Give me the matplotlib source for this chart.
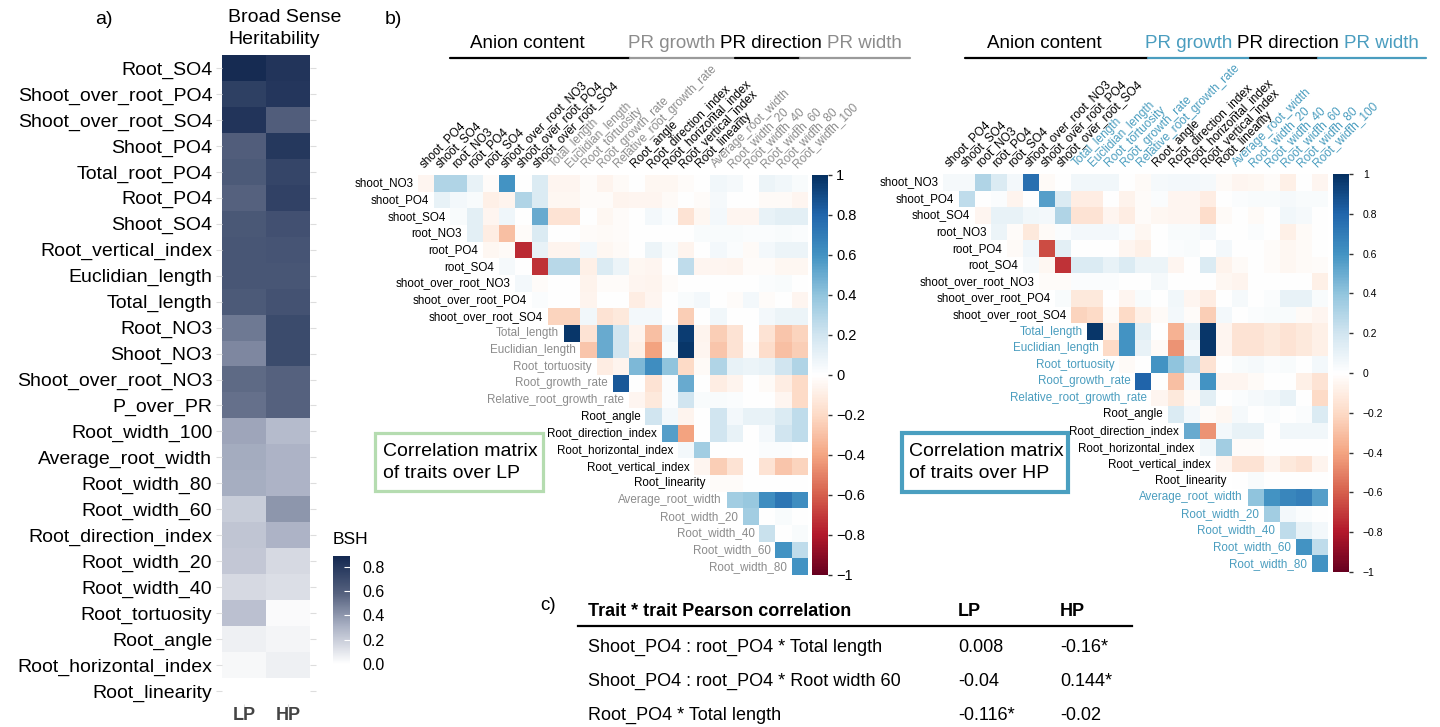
import numpy as np
import matplotlib
matplotlib.use('Agg')
import matplotlib.pyplot as plt
from matplotlib.colors import LinearSegmentedColormap
from matplotlib.lines import Line2D
from matplotlib.patches import Rectangle

plt.rcParams['font.family'] = ['Liberation Sans', 'DejaVu Sans']

# ---- panel a: broad sense heritability ----
bsh_traits = ['Root_SO4', 'Shoot_over_root_PO4', 'Shoot_over_root_SO4', 'Shoot_PO4',
              'Total_root_PO4', 'Root_PO4', 'Shoot_SO4', 'Root_vertical_index',
              'Euclidian_length', 'Total_length', 'Root_NO3', 'Shoot_NO3',
              'Shoot_over_root_NO3', 'P_over_PR', 'Root_width_100', 'Average_root_width',
              'Root_width_80', 'Root_width_60', 'Root_direction_index', 'Root_width_20',
              'Root_width_40', 'Root_tortuosity', 'Root_angle', 'Root_horizontal_index',
              'Root_linearity']
bsh_lp = [0.87, 0.76, 0.82, 0.6, 0.62, 0.58, 0.63, 0.64, 0.64, 0.62, 0.5, 0.45,
          0.55, 0.53, 0.35, 0.33, 0.32, 0.2, 0.23, 0.22, 0.15, 0.25, 0.06, 0.03, 0.0]
bsh_hp = [0.82, 0.81, 0.6, 0.8, 0.73, 0.75, 0.67, 0.65, 0.64, 0.66, 0.7, 0.7,
          0.58, 0.58, 0.27, 0.3, 0.3, 0.4, 0.3, 0.15, 0.13, 0.02, 0.04, 0.06, 0.0]
bsh_ticks = [0.8, 0.6, 0.4, 0.2, 0.0]

# ---- panel b: correlation matrices ----
corr_vars = ['shoot_NO3', 'shoot_PO4', 'shoot_SO4', 'root_NO3', 'root_PO4', 'root_SO4',
             'shoot_over_root_NO3', 'shoot_over_root_PO4', 'shoot_over_root_SO4',
             'Total_length', 'Euclidian_length', 'Root_tortuosity', 'Root_growth_rate',
             'Relative_root_growth_rate', 'Root_angle', 'Root_direction_index',
             'Root_horizontal_index', 'Root_vertical_index', 'Root_linearity',
             'Average_root_width', 'Root_width_20', 'Root_width_40', 'Root_width_60',
             'Root_width_80', 'Root_width_100']
var_group = [0] * 9 + [1] * 5 + [2] * 5 + [3] * 6

# upper triangle, row i holds correlations with corr_vars[i+1:]
lp_rows = [
    [-0.05, 0.3, 0.3, 0.1, -0.02, 0.6, 0.0, 0.15, -0.05, -0.05, -0.02, -0.06, -0.03, 0.0, -0.04, -0.04, -0.02, 0.0, 0.06, 0.04, 0.0, 0.08, 0.06, 0.03],
    [0.1, 0.05, 0.03, -0.08, -0.06, 0.3, 0.15, -0.04, -0.04, -0.02, -0.02, -0.06, -0.05, -0.05, -0.03, 0.0, -0.02, 0.04, 0.0, 0.0, -0.03, -0.03, -0.05],
    [0.03, 0.12, -0.05, 0.07, 0.0, 0.5, -0.15, -0.15, 0.0, -0.04, -0.02, 0.0, 0.05, 0.02, -0.15, -0.04, 0.05, -0.05, -0.05, 0.1, 0.12, 0.12],
    [0.12, -0.1, -0.3, -0.02, 0.15, 0.0, 0.0, -0.02, -0.03, -0.02, 0.0, 0.0, 0.0, 0.0, 0.03, 0.03, 0.03, 0.02, 0.02, 0.03, 0.02],
    [-0.04, -0.03, -0.75, 0.1, -0.06, -0.06, 0.05, -0.04, -0.03, 0.0, 0.08, 0.03, -0.06, 0.0, 0.05, 0.02, -0.03, 0.05, 0.08, 0.08],
    [0.04, 0.0, -0.72, 0.28, 0.28, -0.08, 0.15, 0.08, -0.04, -0.05, 0.0, 0.25, -0.05, -0.05, -0.06, -0.02, -0.02, -0.04, -0.04],
    [0.05, -0.02, 0.0, 0.0, -0.07, -0.02, -0.02, -0.05, -0.06, -0.02, 0.0, 0.0, 0.0, 0.0, 0.0, 0.02, 0.03, 0.0],
    [0.02, 0.0, 0.0, -0.06, 0.0, 0.0, -0.1, -0.05, 0.0, 0.03, 0.05, 0.0, -0.02, 0.05, -0.02, 0.0, -0.05],
    [-0.22, -0.22, 0.06, -0.15, -0.12, 0.05, 0.05, 0.0, -0.25, 0.0, 0.06, 0.0, 0.0, 0.05, 0.08, 0.08],
    [0.97, -0.15, 0.5, 0.2, -0.06, -0.3, 0.07, 0.95, -0.06, -0.25, -0.15, 0.0, -0.15, -0.28, -0.22],
    [-0.28, 0.5, 0.2, -0.08, -0.4, 0.03, 0.97, -0.05, -0.28, -0.15, -0.02, -0.18, -0.3, -0.25],
    [-0.1, -0.06, 0.45, 0.62, 0.4, -0.2, -0.03, 0.3, 0.1, 0.08, 0.1, 0.2, 0.3],
    [0.85, 0.0, -0.15, 0.02, 0.5, 0.0, -0.1, -0.06, 0.0, -0.03, -0.1, -0.2],
    [-0.05, -0.12, 0.02, 0.2, 0.03, 0.03, 0.02, 0.0, 0.0, -0.05, -0.2],
    [0.2, 0.05, -0.06, 0.0, 0.2, 0.05, 0.1, 0.1, 0.15, 0.25],
    [0.55, -0.4, 0.0, 0.2, 0.1, 0.0, 0.05, 0.2, 0.25],
    [0.05, 0.35, 0.0, 0.0, 0.0, 0.02, 0.02, 0.0],
    [-0.05, -0.25, -0.15, 0.0, -0.15, -0.28, -0.22],
    [-0.02, -0.02, 0.0, 0.0, 0.0, 0.0],
    [0.35, 0.38, 0.62, 0.72, 0.62],
    [0.35, 0.0, 0.03, 0.0],
    [0.22, 0.0, 0.03],
    [0.6, 0.25],
    [0.6],
]
hp_rows = [
    [0.04, 0.04, 0.3, 0.15, 0.05, 0.75, -0.03, 0.0, 0.06, 0.06, 0.06, 0.0, -0.03, 0.04, 0.05, 0.05, 0.04, -0.03, -0.05, -0.04, -0.02, -0.08, 0.0, -0.05],
    [0.25, 0.0, 0.02, -0.06, 0.0, 0.55, 0.15, -0.1, -0.1, 0.0, -0.07, -0.02, 0.02, -0.05, -0.05, -0.1, 0.0, 0.02, 0.03, 0.03, 0.04, 0.03, 0.03],
    [-0.05, 0.1, 0.1, 0.06, 0.05, 0.3, -0.15, -0.15, -0.05, -0.1, -0.02, -0.04, -0.05, -0.05, -0.18, -0.03, 0.0, -0.03, 0.0, 0.06, 0.04, 0.0],
    [0.08, -0.02, -0.12, -0.03, 0.02, 0.05, 0.05, 0.05, 0.02, -0.04, 0.0, 0.03, 0.03, 0.05, 0.0, 0.0, 0.02, 0.0, -0.08, -0.03, 0.0],
    [-0.03, 0.07, -0.65, 0.12, 0.0, 0.0, 0.0, -0.05, -0.08, 0.0, 0.02, 0.03, 0.0, 0.05, 0.0, 0.0, -0.02, -0.04, -0.03, 0.0],
    [0.04, -0.04, -0.72, 0.15, 0.15, 0.1, 0.15, 0.08, 0.08, -0.05, 0.0, 0.15, -0.07, -0.03, 0.0, -0.02, -0.04, -0.03, -0.02],
    [-0.02, -0.02, 0.02, 0.02, 0.02, 0.0, 0.0, 0.04, 0.0, 0.0, 0.0, -0.04, -0.06, 0.0, 0.0, 0.0, 0.0, -0.08],
    [0.03, -0.12, -0.12, 0.0, -0.05, 0.03, 0.0, 0.06, -0.05, -0.1, 0.0, 0.04, 0.0, 0.02, 0.1, 0.1, 0.03],
    [-0.22, -0.2, -0.03, -0.2, -0.08, -0.03, 0.05, -0.02, -0.25, 0.05, 0.0, 0.02, 0.03, 0.03, -0.03, -0.05],
    [0.97, -0.08, 0.6, 0.12, 0.0, -0.35, 0.1, 0.97, -0.05, -0.15, -0.15, -0.12, -0.15, -0.12, -0.08],
    [-0.2, 0.6, 0.1, -0.03, -0.45, 0.05, 0.97, -0.05, -0.15, -0.15, -0.12, -0.15, -0.12, -0.08],
    [-0.03, 0.0, 0.6, 0.4, 0.25, -0.15, 0.0, 0.03, 0.04, 0.02, 0.03, 0.0, 0.05],
    [0.8, 0.0, -0.3, 0.05, 0.6, -0.05, -0.05, -0.03, 0.0, 0.0, -0.08, -0.15],
    [-0.05, -0.12, -0.03, 0.12, 0.0, 0.02, 0.04, 0.06, 0.1, 0.0, -0.2],
    [0.15, 0.05, -0.02, -0.04, 0.04, 0.0, 0.02, 0.0, 0.02, 0.15],
    [0.5, -0.45, 0.05, 0.1, 0.1, 0.0, 0.06, 0.06, 0.06],
    [0.06, 0.35, -0.02, -0.02, 0.0, 0.0, 0.0, 0.0],
    [-0.06, -0.15, -0.15, -0.06, -0.12, -0.15, -0.06],
    [0.0, 0.03, 0.0, 0.0, 0.0, 0.0],
    [0.4, 0.6, 0.65, 0.68, 0.55],
    [0.35, 0.05, 0.02, 0.0],
    [0.25, 0.1, 0.05],
    [0.6, 0.25],
    [0.6],
]
corr_ticks = [1, 0.8, 0.6, 0.4, 0.2, 0, -0.2, -0.4, -0.6, -0.8, -1]
corr_ticklabels = ['1', '0.8', '0.6', '0.4', '0.2', '0', '\u22120.2', '\u22120.4',
                   '\u22120.6', '\u22120.8', '\u22121']

# ---- panel c: table ----
table_header = ['Trait * trait Pearson correlation', 'LP', 'HP']
table_pairs = ['Shoot_PO4 : root_PO4 * Total length',
               'Shoot_PO4 : root_PO4 * Root width 60',
               'Root_PO4 * Total length']
table_lp = ['0.008', '-0.04', '-0.116*']
table_hp = ['-0.16*', '0.144*', '-0.02']

W, H = 1440, 727
fig = plt.figure(figsize=(W / 100, H / 100), dpi=100)


def px_axes(x0, y0, x1, y1):
    return fig.add_axes([x0 / W, 1 - y1 / H, (x1 - x0) / W, (y1 - y0) / H])


def fx(x):
    return x / W


def fy(y):
    return 1 - y / H


# ---------------- panel a ----------------
bsh_cmap = LinearSegmentedColormap.from_list(
    'bsh', [(0, '#ffffff'), (0.35, '#aab1c4'), (0.65, '#56627f'), (1, '#132850')])
bsh_max = 0.89
ax_a = px_axes(222, 55, 310, 704)
bsh = np.column_stack([bsh_lp, bsh_hp])
im_a = ax_a.imshow(bsh, cmap=bsh_cmap, vmin=0, vmax=bsh_max, aspect='auto',
                   interpolation='nearest', extent=(0, 2, len(bsh_traits), 0))
ax_a.set_yticks(np.arange(len(bsh_traits)) + 0.5)
ax_a.set_yticklabels(bsh_traits, fontsize=14)
ax_a.set_xticks([0.5, 1.5])
ax_a.set_xticklabels(['LP', 'HP'], fontsize=13, fontweight='bold', color='#444444')
ax_a.tick_params(axis='y', length=4, color='#dddddd', right=True, pad=3)
ax_a.tick_params(axis='x', length=2, color='#dddddd', pad=0.5)
for s in ax_a.spines.values():
    s.set_visible(False)

fig.text(fx(228), fy(18), 'Broad Sense', fontsize=14, va='center', ha='left')
fig.text(fx(228), fy(40), 'Heritability', fontsize=14, va='center', ha='left')
fig.text(fx(95), fy(20), 'a)', fontsize=14, va='center', ha='left')

cax_a = px_axes(333, 556, 350, 664)
cb_a = fig.colorbar(im_a, cax=cax_a, ticks=bsh_ticks)
cb_a.outline.set_visible(False)
cb_a.ax.set_yticklabels(['%.1f' % t for t in bsh_ticks])
cb_a.ax.tick_params(length=4, color='white', direction='in', labelsize=11.5, pad=9)
fig.text(fx(333), fy(540), 'BSH', fontsize=12.5, va='center', ha='left')

# ---------------- panel b ----------------
corr_cmap = LinearSegmentedColormap.from_list(
    'corr', ['#67001F', '#B2182B', '#D6604D', '#F4A582', '#FDDBC7', '#FFFFFF',
             '#D1E5F0', '#92C5DE', '#4393C3', '#2166AC', '#053061'])


def draw_corr(rows, box, cbox, accent, cb_fs, cb_pad):
    n = len(rows)
    mat = np.full((n, n), np.nan)
    for i, r in enumerate(rows):
        mat[i, i:] = r
    ax = px_axes(*box)
    im = ax.imshow(mat, cmap=corr_cmap, vmin=-1, vmax=1, aspect='auto',
                   interpolation='nearest', extent=(0, n, n, 0))
    ax.set_xlim(0, n)
    ax.set_ylim(n, 0)
    ax.axis('off')
    grp_col = ['black', accent, 'black', accent]
    for i in range(n):
        ax.text(i - 0.3, i + 0.5, corr_vars[i], ha='right', va='center',
                fontsize=8.4, color=grp_col[var_group[i]])
    for j in range(n):
        ax.text(j + 0.45, -0.3, corr_vars[j + 1], ha='left', va='bottom',
                rotation=45, rotation_mode='anchor', fontsize=8.6,
                color=grp_col[var_group[j + 1]])
    cax = px_axes(*cbox)
    cb = fig.colorbar(im, cax=cax, ticks=corr_ticks)
    cb.outline.set_visible(False)
    cb.ax.set_yticklabels(corr_ticklabels)
    cb.ax.tick_params(length=3, width=1, color='#333333', labelsize=cb_fs, pad=cb_pad)
    return ax


draw_corr(lp_rows, (418, 175, 808, 575), (812, 175, 828, 575), '#8c8c8c', 10.5, 3)
draw_corr(hp_rows, (943, 174, 1328, 572), (1333, 174, 1349, 572), '#4a9dbf', 7.5, 7)

fig.text(fx(385), fy(20), 'b)', fontsize=14, va='center', ha='left')

renderer = fig.canvas.get_renderer()


def header(x_anion, x_growth, y, accent):
    fig.text(fx(x_anion), fy(y), 'Anion content', fontsize=13.5, va='center', ha='left')
    x = x_growth
    for txt, col in [('PR growth', accent), ('PR direction', 'black'), ('PR width', accent)]:
        t = fig.text(fx(x), fy(y), txt, fontsize=13.5, va='center', ha='left', color=col)
        x = t.get_window_extent(renderer).x1 + 5


header(470, 628, 43, '#8c8c8c')
header(987, 1145, 43, '#4a9dbf')

for segs in ([(450, 630, 'black'), (630, 735, '#9a9a9a'), (735, 800, 'black'), (800, 910, '#9a9a9a')],
             [(965, 1148, 'black'), (1148, 1250, '#4a9dbf'), (1250, 1318, 'black'), (1318, 1426, '#4a9dbf')]):
    for a, b, col in segs:
        fig.add_artist(Line2D([fx(a), fx(b)], [fy(58), fy(58)], color=col, lw=1.6,
                              transform=fig.transFigure, solid_capstyle='round'))

# annotation boxes
fig.add_artist(Rectangle((fx(375), fy(491)), (543 - 375) / W, (491 - 433) / H,
                         transform=fig.transFigure, fill=False, edgecolor='#b5dcb0', lw=2.3))
fig.text(fx(383), fy(451), 'Correlation matrix', fontsize=14, va='center', ha='left')
fig.text(fx(383), fy(474), 'of traits over LP', fontsize=14, va='center', ha='left')
fig.add_artist(Rectangle((fx(902), fy(492)), (1068 - 902) / W, (492 - 433) / H,
                         transform=fig.transFigure, fill=False, edgecolor='#4a9fc0', lw=3))
fig.text(fx(909), fy(451), 'Correlation matrix', fontsize=14, va='center', ha='left')
fig.text(fx(909), fy(474), 'of traits over HP', fontsize=14, va='center', ha='left')

# ---------------- panel c ----------------
fig.text(fx(540), fy(605), 'c)', fontsize=13.5, va='center', ha='left')
col_x = [588, 958, 1060]
for x, txt in zip(col_x, table_header):
    fig.text(fx(x), fy(612), txt, fontsize=13, fontweight='bold', va='center', ha='left')
fig.add_artist(Line2D([fx(578), fx(1132)], [fy(626), fy(626)], color='black', lw=1.6,
                      transform=fig.transFigure))
for k, (pair, lp, hp) in enumerate(zip(table_pairs, table_lp, table_hp)):
    y = 647 + 34 * k
    fig.text(fx(col_x[0]), fy(y), pair, fontsize=13, va='center', ha='left')
    fig.text(fx(col_x[1]), fy(y), lp, fontsize=13, va='center', ha='left')
    fig.text(fx(col_x[2]), fy(y), hp, fontsize=13, va='center', ha='left')

fig.savefig('out.png', dpi=100)
